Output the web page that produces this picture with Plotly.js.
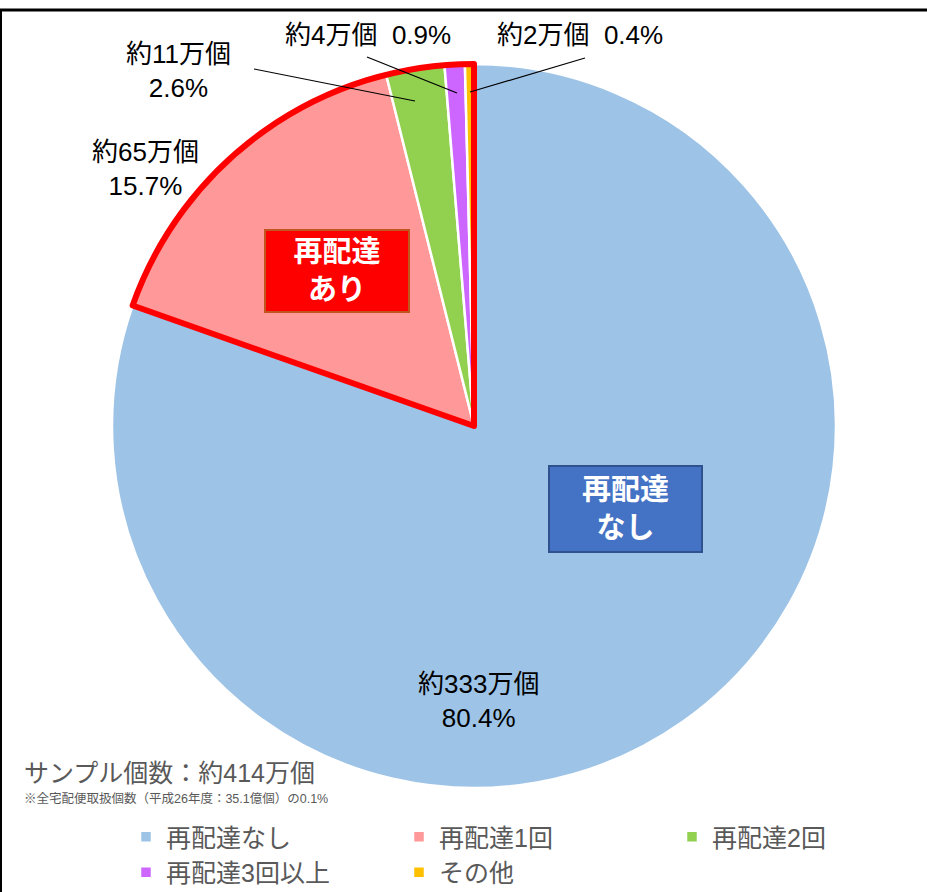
<!DOCTYPE html>
<html><head><meta charset="utf-8">
<script src="https://cdn.plot.ly/plotly-3.0.1.min.js"></script>
<style>body{margin:0;background:#fff}</style>
</head><body>
<div id="chart" style="width:927px;height:892px"></div>
<script>
// ---- data ----
const categories = ['再配達なし', '再配達1回', '再配達2回', '再配達3回以上', 'その他'];
const shares = [80.4, 15.7, 2.6, 0.9, 0.4];
const counts = ['約333万個', '約65万個', '約11万個', '約4万個', '約2万個'];
const colors = ['#9DC3E6', '#FF9999', '#92D050', '#CC66FF', '#FFC000'];
const groupLabels = ['再配達なし', '再配達あり'];
const groupShares = [shares[0], shares.slice(1).reduce((a, b) => a + b, 0)];
const sampleText = 'サンプル個数：約414万個';
const noteText = '※全宅配便取扱個数（平成26年度：35.1億個）の0.1%';

// ---- layout helpers ----
const W = 927, H = 892;
const px = v => v / W;
const py = v => 1 - v / H;
const domain = {x: [px(112), px(836)], y: [py(788), py(64)]};
const FONT = 'Liberation Sans, Arial, "Noto Sans CJK JP", sans-serif';

const pieTrace = {
  type: 'pie', labels: categories, values: shares, sort: false,
  direction: 'clockwise', rotation: 0, domain: domain,
  textinfo: 'none', hoverinfo: 'label+percent',
  marker: {colors: colors, line: {color: '#ffffff', width: 2.5}},
  showlegend: true
};
const outlineTrace = {
  type: 'pie', labels: groupLabels, values: groupShares, sort: false,
  direction: 'clockwise', rotation: 0, domain: domain,
  textinfo: 'none', hoverinfo: 'skip', showlegend: false,
  marker: {colors: ['rgba(0,0,0,0)', 'rgba(0,0,0,0)'],
           line: {color: ['rgba(0,0,0,0)', '#FF0000'], width: 6}}
};

// slice labels (text built from the data arrays)
const labelPos = [
  {x: 478, y: 701, two: true},
  {x: 145, y: 169, two: true},
  {x: 178, y: 71, two: true},
  {x: 368, y: 35, two: false},
  {x: 580, y: 35, two: false}
];
const annotations = labelPos.map((p, i) => ({
  xref: 'paper', yref: 'paper', x: px(p.x), y: py(p.y),
  xanchor: 'center', yanchor: 'middle', showarrow: false,
  text: counts[i] + (p.two ? '<br>' : '\u00a0\u00a0') + shares[i].toFixed(1) + '%',
  font: {family: FONT, size: 26, color: '#000000'}
}));

annotations.push({
  xref: 'paper', yref: 'paper', x: px(337), y: py(271),
  xanchor: 'center', yanchor: 'middle', showarrow: false,
  text: '<b>' + groupLabels[1].slice(0, 3) + '<br>' + groupLabels[1].slice(3) + '</b>',
  font: {family: FONT, size: 29, color: '#ffffff'},
  bgcolor: '#FF0000', bordercolor: '#C0561E', borderwidth: 2,
  width: 142, height: 80, borderpad: 0
});
annotations.push({
  xref: 'paper', yref: 'paper', x: px(625), y: py(509),
  xanchor: 'center', yanchor: 'middle', showarrow: false,
  text: '<b>' + groupLabels[0].slice(0, 3) + '<br>' + groupLabels[0].slice(3) + '</b>',
  font: {family: FONT, size: 29, color: '#ffffff'},
  bgcolor: '#4472C4', bordercolor: '#2F528F', borderwidth: 2,
  width: 151, height: 84, borderpad: 0
});
annotations.push({
  xref: 'paper', yref: 'paper', x: px(22), y: py(773),
  xanchor: 'left', yanchor: 'middle', showarrow: false,
  text: sampleText, font: {family: FONT, size: 25, color: '#595959'}
});
annotations.push({
  xref: 'paper', yref: 'paper', x: px(22), y: py(798),
  xanchor: 'left', yanchor: 'middle', showarrow: false,
  text: noteText, font: {family: FONT, size: 12.5, color: '#595959'}
});

const leader = (x0, y0, x1, y1) => ({
  type: 'line', xref: 'paper', yref: 'paper',
  x0: px(x0), y0: py(y0), x1: px(x1), y1: py(y1),
  line: {color: '#000000', width: 1.2}, layer: 'above'
});
const shapes = [
  leader(254, 69, 415, 101),
  leader(367, 57, 457, 93),
  leader(585, 58, 470, 92),
  {type: 'line', xref: 'paper', yref: 'paper', x0: 0, x1: 1, y0: py(10), y1: py(10),
   line: {color: '#000000', width: 3}},
  {type: 'line', xref: 'paper', yref: 'paper', x0: px(1), x1: px(1), y0: py(9), y1: 0,
   line: {color: '#000000', width: 2}}
];

const layout = {
  width: W, height: H,
  margin: {l: 0, r: 0, t: 0, b: 0, autoexpand: false},
  paper_bgcolor: '#ffffff',
  showlegend: true,
  legend: {
    orientation: 'h', x: px(126), xanchor: 'left', y: py(814), yanchor: 'top',
    entrywidth: 228, entrywidthmode: 'pixels', traceorder: 'normal',
    font: {family: FONT, size: 25, color: '#595959'},
    bgcolor: 'rgba(0,0,0,0)'
  },
  annotations: annotations,
  shapes: shapes
};

Plotly.newPlot('chart', [pieTrace, outlineTrace], layout, {displayModeBar: false, staticPlot: true});
</script>
</body></html>
